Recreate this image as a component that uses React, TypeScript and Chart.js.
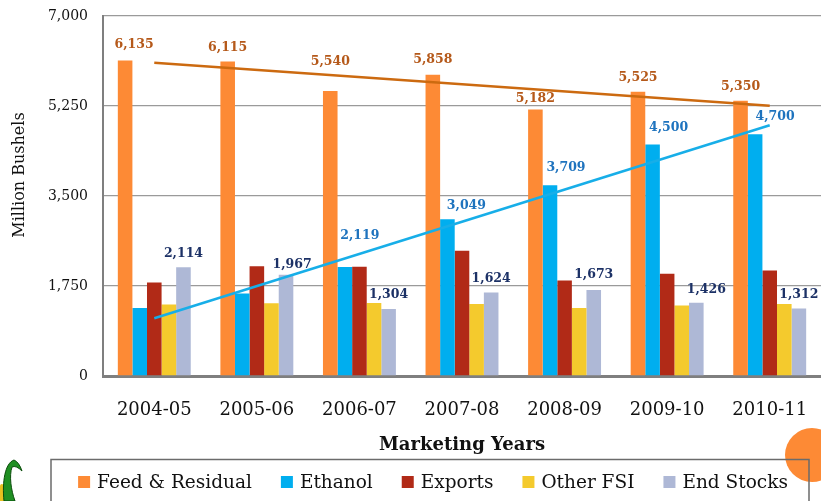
import { useEffect, useRef } from 'react';
import { Chart, registerables } from 'chart.js';

Chart.register(...registerables);

// ---------- data ----------
const years = ['2004-05', '2005-06', '2006-07', '2007-08', '2008-09', '2009-10', '2010-11'];
const feedResidual = [6135, 6115, 5540, 5858, 5182, 5525, 5350];
const ethanol = [1323, 1603, 2119, 3049, 3709, 4500, 4700];
const exportsUse = [1818, 2134, 2125, 2437, 1858, 1987, 2050];
const otherFSI = [1390, 1415, 1420, 1400, 1320, 1370, 1400];
const endStocks = [2114, 1967, 1304, 1624, 1673, 1426, 1312];
const ethanolLabelShown = [false, false, true, true, true, true, true];
const feedTrend = [6089, null, null, null, null, null, 5255];
const ethanolTrend = [1124, null, null, null, null, null, 4877];
const seriesNames = ['Feed & Residual', 'Ethanol', 'Exports', 'Other FSI', 'End Stocks'];
const yMax = 7000;
const yStep = 1750;

// ---------- styles ----------
const FONT = 'DejaVu Serif';
const colors = ['#FD8A35', '#00AEEF', '#B12A17', '#F4CA2D', '#AEB8D6'];
const feedLabelColor = '#B5591A';
const ethanolLabelColor = '#1E73BE';
const stocksLabelColor = '#1C3166';
const feedTrendColor = '#CC6A10';
const ethanolTrendColor = '#17AEE8';
const feedLabelDx = [9, 0, 0, 0, 0, 0, 0];
const feedLabelDy = [16, 14, 29, 15, 11, 14, 14];
const ethLabelDx = [17, 17, 15, 19, 16, 16, 20];
const ethLabelDy = [14, 14, 31, 13, 18, 17, 18];
const stkLabelDx = [0, 6, 0, 0, 0, 10, 0];
const stkLabelDy = [14, 10, 14, 14, 15, 13, 14];

const fmt = (v: number) => v.toLocaleString('en-US');

const overlayPlugin = {
  id: 'overlay',
  afterDatasetsDraw(chart: any) {
    const ctx = chart.ctx;
    ctx.save();
    ctx.font = `bold 12.5px ${FONT}`;
    ctx.textAlign = 'center';
    ctx.textBaseline = 'middle';
    const draw = (idx: number, color: string, dx: number[], dy: number[], shown?: boolean[]) => {
      const meta = chart.getDatasetMeta(idx);
      const data = chart.data.datasets[idx].data;
      ctx.fillStyle = color;
      meta.data.forEach((bar: any, i: number) => {
        if (shown && !shown[i]) return;
        ctx.fillText(fmt(data[i]), bar.x + dx[i], bar.y - dy[i]);
      });
    };
    draw(0, feedLabelColor, feedLabelDx, feedLabelDy);
    draw(1, ethanolLabelColor, ethLabelDx, ethLabelDy, ethanolLabelShown);
    draw(4, stocksLabelColor, stkLabelDx, stkLabelDy);
    ctx.restore();
  },
  afterDraw(chart: any) {
    const ctx = chart.ctx;
    ctx.save();
    // y axis title
    ctx.save();
    ctx.translate(20, 175);
    ctx.rotate(-Math.PI / 2);
    ctx.font = `16px ${FONT}`;
    ctx.fillStyle = '#111';
    ctx.textAlign = 'center';
    ctx.textBaseline = 'middle';
    ctx.fillText('Million Bushels', 0, 0);
    ctx.restore();

    // orange decorative circle
    ctx.beginPath();
    ctx.arc(812, 455, 27, 0, Math.PI * 2);
    ctx.fillStyle = '#FD8A35';
    ctx.fill();

    // corn decoration
    ctx.beginPath();
    ctx.ellipse(2, 494, 4, 10, 0, 0, Math.PI * 2);
    ctx.fillStyle = '#E8C020';
    ctx.fill();
    ctx.beginPath();
    ctx.moveTo(4, 501);
    ctx.bezierCurveTo(2, 482, 5, 463, 14, 460);
    ctx.quadraticCurveTo(19, 462, 22, 471);
    ctx.quadraticCurveTo(16, 465, 12, 467);
    ctx.bezierCurveTo(9, 476, 11, 490, 15, 501);
    ctx.closePath();
    ctx.fillStyle = '#1F8F22';
    ctx.fill();
    ctx.lineWidth = 1;
    ctx.strokeStyle = '#0B4D0B';
    ctx.stroke();

    // legend box
    ctx.lineWidth = 1.5;
    ctx.strokeStyle = '#6b6b6b';
    ctx.beginPath();
    ctx.moveTo(51, 505);
    ctx.lineTo(51, 459.5);
    ctx.lineTo(809, 459.5);
    ctx.lineTo(809, 505);
    ctx.stroke();

    // legend items
    ctx.font = `18.5px ${FONT}`;
    ctx.textBaseline = 'middle';
    ctx.textAlign = 'left';
    const box = 12;
    const gapText = 7;
    const gapItem = 29;
    const widths = seriesNames.map((n) => ctx.measureText(n).width);
    const total = widths.reduce((a, w) => a + box + gapText + w, 0) + gapItem * (seriesNames.length - 1);
    let x = 433 - total / 2;
    const cy = 482;
    seriesNames.forEach((n, i) => {
      ctx.fillStyle = colors[i];
      ctx.fillRect(x, cy - box / 2, box, box);
      ctx.fillStyle = '#111';
      ctx.fillText(n, x + box + gapText, cy + 1);
      x += box + gapText + widths[i] + gapItem;
    });
    ctx.restore();
  },
};

export default function App() {
  const ref = useRef<HTMLCanvasElement>(null);
  useEffect(() => {
    if (!ref.current) return;
    const barDs = (label: string, data: number[], color: string) => ({
      type: 'bar' as const,
      label,
      data,
      backgroundColor: color,
      borderWidth: 0,
      categoryPercentage: 0.711,
      barPercentage: 1,
      order: 1,
    });
    const chart = new Chart(ref.current, {
      type: 'bar',
      data: {
        labels: years,
        datasets: [
          barDs(seriesNames[0], feedResidual, colors[0]),
          barDs(seriesNames[1], ethanol, colors[1]),
          barDs(seriesNames[2], exportsUse, colors[2]),
          barDs(seriesNames[3], otherFSI, colors[3]),
          barDs(seriesNames[4], endStocks, colors[4]),
          {
            type: 'line' as const,
            label: 'Feed trend',
            data: feedTrend as any,
            borderColor: feedTrendColor,
            borderWidth: 2.5,
            pointRadius: 0,
            spanGaps: true,
            fill: false,
            order: 0,
          },
          {
            type: 'line' as const,
            label: 'Ethanol trend',
            data: ethanolTrend as any,
            borderColor: ethanolTrendColor,
            borderWidth: 2.5,
            pointRadius: 0,
            spanGaps: true,
            fill: false,
            order: 0,
          },
        ] as any,
      },
      options: {
        animation: false,
        responsive: false,
        devicePixelRatio: 1,
        layout: { padding: { top: 16, right: 0, left: 0, bottom: 44 } },
        plugins: {
          legend: { display: false },
          tooltip: { enabled: false },
        },
        scales: {
          x: {
            grid: { display: false, drawTicks: true, tickLength: 24, tickColor: 'rgba(0,0,0,0)' },
            border: { display: true, color: '#7f7f7f', width: 3 },
            ticks: { font: { family: FONT, size: 18 }, color: '#111', padding: 0 },
            title: {
              display: true,
              text: 'Marketing Years',
              font: { family: FONT, size: 18, weight: 'bold' },
              color: '#111',
              padding: { top: 0, bottom: 1 },
            },
            afterFit: (scale: any) => {
              scale.height = 81;
            },
          },
          y: {
            min: 0,
            max: yMax,
            ticks: {
              stepSize: yStep,
              font: { family: FONT, size: 14 },
              color: '#111',
              padding: 0,
              callback: (v: any) => fmt(Number(v)),
            },
            grid: { color: '#9a9a9a', lineWidth: 1.3, drawTicks: true, tickLength: 15, tickColor: 'rgba(0,0,0,0)' },
            border: { display: true, color: '#7f7f7f', width: 2 },
            afterFit: (scale: any) => {
              scale.width = 103;
            },
          },
        },
      },
      plugins: [overlayPlugin],
    });
    return () => chart.destroy();
  }, []);
  return (
    <div style={{ position: 'absolute', left: 0, top: 0, width: 821, height: 501, background: '#fff' }}>
      <canvas ref={ref} width={821} height={501} />
    </div>
  );
}
